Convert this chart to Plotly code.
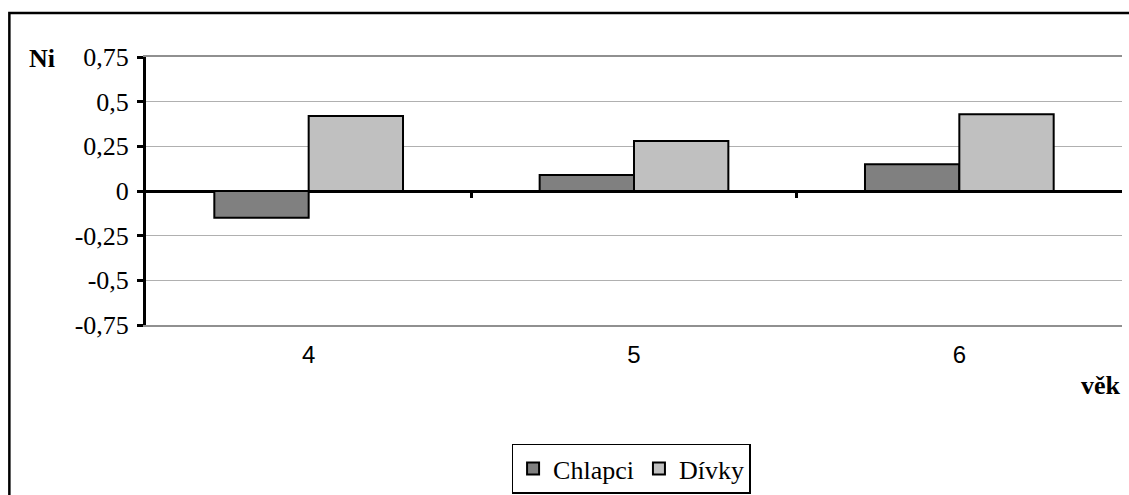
import plotly.graph_objects as go

categories = ["4", "5", "6"]
chlapci = [-0.15, 0.09, 0.15]
divky = [0.42, 0.28, 0.43]
y_tickvals = [-0.75, -0.5, -0.25, 0, 0.25, 0.5, 0.75]
y_ticktext = ["-0,75", "-0,5", "-0,25", "0", "0,25", "0,5", "0,75"]
boundary_ticks = [0.5, 1.5]

SERIF = "Liberation Serif, Times New Roman, serif"
SANS = "Liberation Sans, Arial, sans-serif"

fig = go.Figure()
fig.add_trace(go.Bar(x=categories, y=chlapci, name="Chlapci",
                     marker=dict(color="#808080", line=dict(color="black", width=2))))
fig.add_trace(go.Bar(x=categories, y=divky, name="Dívky",
                     marker=dict(color="#c0c0c0", line=dict(color="black", width=2))))
# empty helper trace so the category-boundary tick axis (on the zero line) is drawn
fig.add_trace(go.Scatter(x=[], y=[], xaxis="x2", yaxis="y", showlegend=False,
                         hoverinfo="skip", mode="markers"))

fig.update_layout(
    width=1129, height=495,
    margin=dict(l=146, r=7, t=57, b=170, autoexpand=False),
    paper_bgcolor="white", plot_bgcolor="white",
    barmode="group", bargap=0.42, bargroupgap=0,
    font=dict(family=SERIF, color="black", size=24),
    xaxis=dict(type="category", range=[-0.5, 2.5], showgrid=False, zeroline=False,
               showline=True, linecolor="#909090", linewidth=2, mirror=True,
               ticks="", tickfont=dict(family=SANS, size=24, color="black"), ticklabelstandoff=7),
    xaxis2=dict(overlaying="x", anchor="free", position=0.5, side="bottom",
                range=[-0.5, 2.5], tickvals=boundary_ticks,
                ticks="outside", ticklen=6, tickwidth=3, tickcolor="black",
                showticklabels=False, showgrid=False, zeroline=False, showline=False),
    yaxis=dict(range=[-0.75, 0.75], tickvals=y_tickvals, ticktext=y_ticktext,
               showgrid=True, gridcolor="#b0b0b0", gridwidth=1,
               zeroline=True, zerolinecolor="black", zerolinewidth=3,
               showline=True, linecolor="black", linewidth=3,
               ticks="outside", ticklen=6, tickwidth=3, tickcolor="black",
               ticklabelstandoff=3,
               tickfont=dict(family=SERIF, size=26, color="black")),
    legend=dict(orientation="h", x=0.497, xanchor="center", y=-0.443, yanchor="top",
                bordercolor="black", borderwidth=1.5, font=dict(family=SERIF, size=26),
                itemwidth=30, tracegroupgap=0),
    annotations=[
        dict(text="<b>Ni</b>", xref="paper", yref="paper", x=-0.107, y=0.996,
             showarrow=False, font=dict(family=SERIF, size=26), xanchor="center", yanchor="middle"),
        dict(text="<b>věk</b>", xref="paper", yref="paper", x=0.978, y=-0.225,
             showarrow=False, font=dict(family=SERIF, size=26), xanchor="center", yanchor="middle"),
    ],
    shapes=[
        dict(type="rect", xref="paper", yref="paper", x0=-0.140, x1=1.1, y0=-1.0, y1=1.164,
             line=dict(color="black", width=2.5), layer="below"),
    ],
)

fig.write_html("out.html")
